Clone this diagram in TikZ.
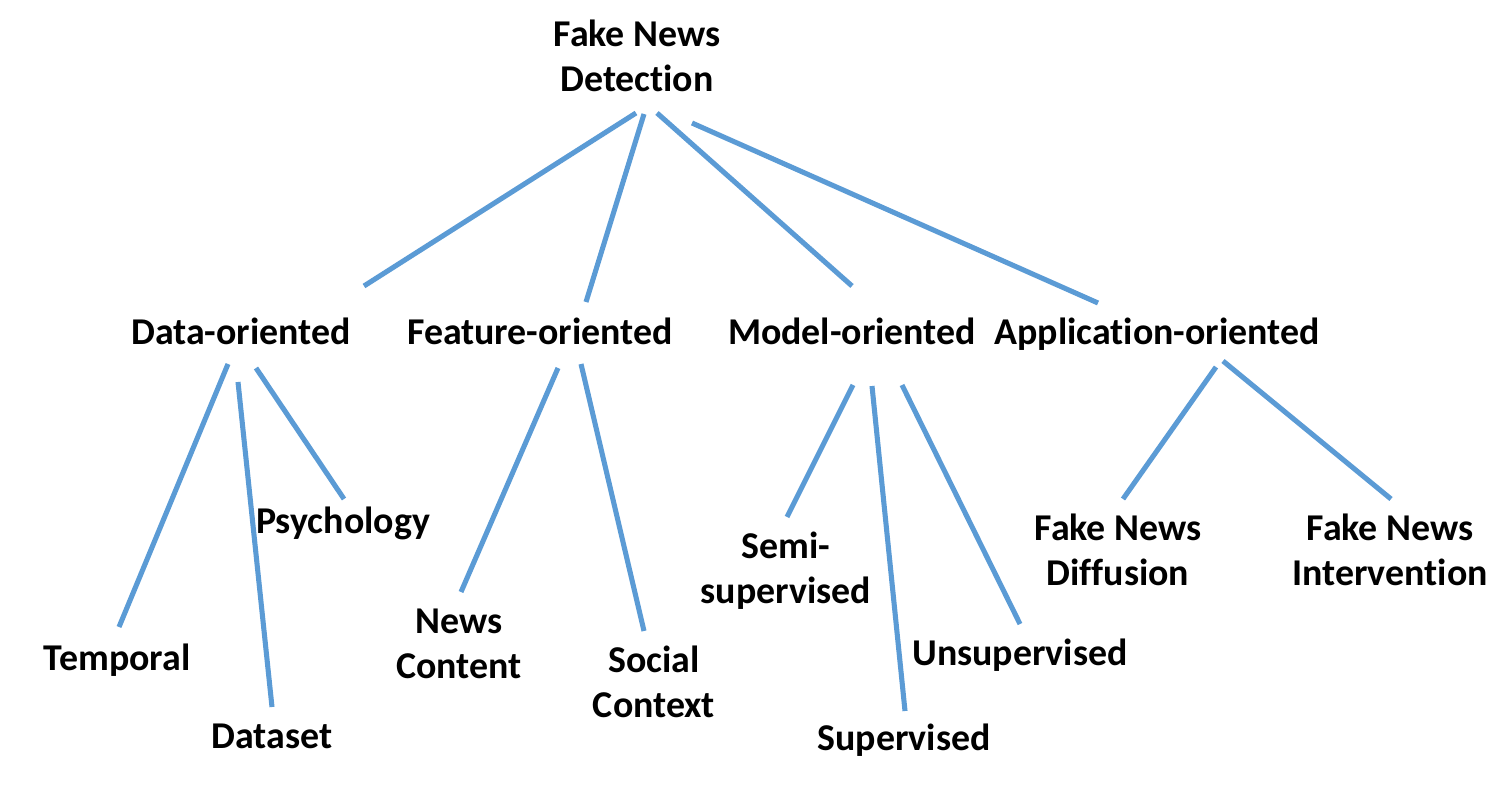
\documentclass[tikz,border=0pt]{standalone}
\usepackage{fontspec}
\setmainfont{Carlito}[Ligatures=NoCommon]
\begin{document}
\begin{tikzpicture}[x=0.75pt,y=-0.75pt]
        \tikzstyle{topic}=[anchor=base,align=center,inner sep=0pt,font=\bfseries\fontsize{28.4}{33.75}\selectfont]
        \tikzstyle{edge}=[draw=lineblue,line width=3.8pt]
        \definecolor{lineblue}{HTML}{5B9BD5}
        \useasboundingbox (0,0) rectangle (1512,787);
       \begin{scope}
         \node [topic] (fnd) at (637,92) {Fake News\\Detection};
         \node [topic] (data) at (241,345) {Data-oriented};
         \node [topic] (feat) at (540,345) {Feature-oriented};
         \node [topic] (model) at (852,345) {Model-oriented};
         \node [topic] (app) at (1157,345) {Application-oriented};
         \node [topic] (temp) at (117,670) {Temporal};
         \node [topic] (dset) at (272,748) {Dataset};
         \node [topic] (psy) at (343,533) {Psychology};
         \node [topic] (news) at (459,678) {News\\Content};
         \node [topic] (soc) at (654,717) {Social\\Context};
         \node [topic] (semi) at (786,603) {Semi-\\supervised};
         \node [topic] (sup) at (904,750) {Supervised};
         \node [topic] (unsup) at (1020,665) {Unsupervised};
         \node [topic] (diff) at (1118,585) {Fake News\\Diffusion};
         \node [topic] (inter) at (1390,585) {Fake News\\Intervention};
         % line ends
         \coordinate (fnd1) at (636,113); \coordinate (data0) at (364,286);
         \coordinate (fnd2) at (644,114); \coordinate (feat0) at (586,302);
         \coordinate (fnd3) at (657,113); \coordinate (model0) at (852,286);
         \coordinate (fnd4) at (692,123); \coordinate (app0) at (1098,303);
         \coordinate (data1) at (228,364); \coordinate (temp0) at (119,627);
         \coordinate (data2) at (238,382); \coordinate (dset0) at (272,707);
         \coordinate (data3) at (256,368); \coordinate (psy0) at (344,499);
         \coordinate (feat1) at (558,368); \coordinate (news0) at (461,592);
         \coordinate (feat2) at (581,364); \coordinate (soc0) at (644,631);
         \coordinate (model1) at (853,385); \coordinate (semi0) at (787,517);
         \coordinate (model2) at (872,386); \coordinate (sup0) at (905,711);
         \coordinate (model3) at (902,385); \coordinate (unsup0) at (1020,624);
         \coordinate (app1) at (1216,367); \coordinate (diff0) at (1123,499);
         \coordinate (app2) at (1223,361); \coordinate (inter0) at (1391,499);
         \path[edge] (fnd1) -- (data0);
         \path[edge] (fnd2) -- (feat0);
         \path[edge] (fnd3) -- (model0);
         \path[edge] (fnd4) -- (app0);
         \path[edge] (data1) -- (temp0);
         \path[edge] (data2) -- (dset0);
         \path[edge] (data3) -- (psy0);
         \path[edge] (feat1) -- (news0);
         \path[edge] (feat2) -- (soc0);
         \path[edge] (model1) -- (semi0);
         \path[edge] (model2) -- (sup0);
         \path[edge] (model3) -- (unsup0);
         \path[edge] (app1) -- (diff0);
         \path[edge] (app2) -- (inter0);
        \end{scope}
      \end{tikzpicture}
\end{document}
